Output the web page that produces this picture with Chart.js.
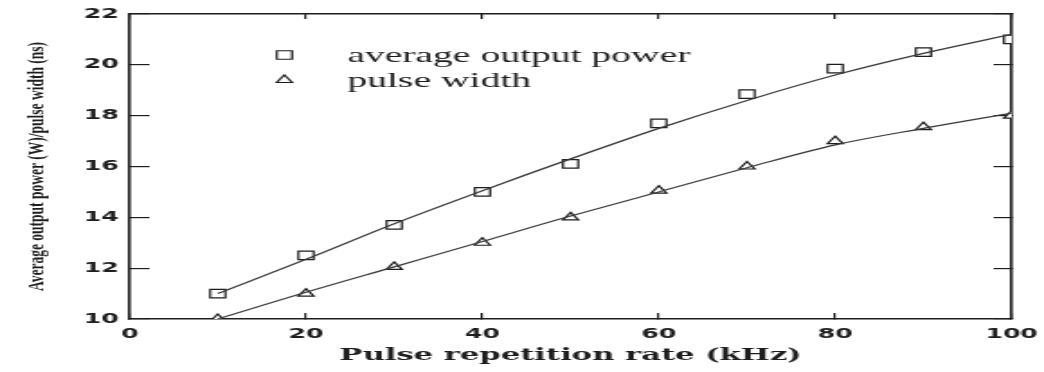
<!DOCTYPE html>
<html>
<head>
<meta charset="utf-8">
<script src="https://cdn.jsdelivr.net/npm/chart.js@4/dist/chart.umd.min.js"></script>
<style>
    html, body { margin: 0; padding: 0; background: #fff; overflow: hidden; }
    /* the scanned figure is stretched sideways, so the whole chart is too */
    #wrap { width: 580px; height: 372px; transform: scaleX(1.8); transform-origin: 0 0; }
</style>
</head>
<body>
<div id="wrap"><canvas id="pulse-chart"></canvas></div>
<script>
'use strict';

var rateKHz = [10, 20, 30, 40, 50, 60, 70, 80, 90, 100];
var avgPower = [11.0, 12.5, 13.7, 15.0, 16.1, 17.7, 18.85, 19.85, 20.5, 21.0];
var pulseWidth = [10.0, 11.0, 12.05, 13.0, 14.0, 15.05, 16.0, 17.0, 17.55, 18.0];
// fitted curves
var powerFit = [11.0, 12.35, 13.75, 15.05, 16.3, 17.5, 18.6, 19.6, 20.45, 21.2];
var widthFit = [10.0, 11.05, 12.05, 13.05, 14.05, 15.0, 15.95, 16.85, 17.5, 18.1];

var legendLabels = ['average output power', 'pulse width'];
var xTitle = 'Pulse repetition rate (kHz)';
var yTitle = 'Average output power (W)/pulse width (ns)';

var ink = '#1e1e1e';

function toPoints(xs, ys) {
    return xs.map(function (x, i) {
        return { x: x, y: ys[i] };
    });
}

var tickFont = { family: 'DejaVu Sans', size: 14, weight: 'bold' };

// legend sits inside the plot, upper left
var insideLegend = {
    id: 'insideLegend',
    afterDatasetsDraw: function (chart) {
        var ctx = chart.ctx;
        var area = chart.chartArea;
        var styles = ['rect', 'triangle'];
        var radii = [6, 5];
        ctx.save();
        ctx.font = '22px "Liberation Serif"';
        ctx.textBaseline = 'middle';
        legendLabels.forEach(function (label, i) {
            var y = area.top + 41 + i * 25;
            ctx.strokeStyle = ink;
            ctx.fillStyle = '#fff';
            ctx.lineWidth = 1.2;
            Chart.helpers.drawPoint(ctx, {
                pointStyle: styles[i],
                radius: radii[i],
                rotation: 0,
                borderWidth: 1.2
            }, area.left + 86, y);
            ctx.fillStyle = ink;
            ctx.fillText(label, area.left + 121, y + 1);
        });
        ctx.restore();
    }
};

// no extra room for edge tick labels, the frame fills the page
function noEdgePadding(scale) {
    scale.paddingLeft = 0;
    scale.paddingRight = 0;
    scale.paddingTop = 0;
    scale.paddingBottom = 0;
}

var pulseChart = new Chart(document.getElementById('pulse-chart'), {
    type: 'scatter',
    data: {
        datasets: [
            {
                type: 'line',
                data: toPoints(rateKHz, powerFit),
                borderColor: '#3a3a3a',
                borderWidth: 1.2,
                pointRadius: 0,
                cubicInterpolationMode: 'monotone',
                fill: false
            },
            {
                type: 'line',
                data: toPoints(rateKHz, widthFit),
                borderColor: '#3a3a3a',
                borderWidth: 1.2,
                pointRadius: 0,
                cubicInterpolationMode: 'monotone',
                fill: false
            },
            {
                data: toPoints(rateKHz, avgPower),
                pointStyle: 'rect',
                pointRadius: 6,
                borderWidth: 1.2,
                borderColor: ink,
                backgroundColor: '#fff'
            },
            {
                data: toPoints(rateKHz, pulseWidth),
                pointStyle: 'triangle',
                pointRadius: 5,
                borderWidth: 1.2,
                borderColor: ink,
                backgroundColor: '#fff'
            }
        ]
    },
    options: {
        responsive: true,
        maintainAspectRatio: false,
        animation: false,
        layout: { padding: 0 },
        plugins: {
            legend: { display: false },
            tooltip: { enabled: false }
        },
        scales: {
            x: {
                type: 'linear',
                position: 'bottom',
                min: 0,
                max: 100,
                ticks: { stepSize: 20, color: ink, font: tickFont, padding: 13, maxRotation: 0 },
                grid: { drawOnChartArea: false, tickLength: -6, color: ink, lineWidth: 1.2 },
                border: { color: ink, width: 1.6 },
                title: {
                    display: true,
                    text: xTitle,
                    color: ink,
                    font: { family: 'DejaVu Serif', size: 17, weight: 'bold' },
                    padding: { top: 0, bottom: 6 }
                },
                afterFit: function (scale) {
                    scale.height = 53;
                    noEdgePadding(scale);
                }
            },
            x2: {
                type: 'linear',
                position: 'top',
                min: 0,
                max: 100,
                ticks: { stepSize: 20, display: false },
                grid: { drawOnChartArea: false, tickLength: -5, color: ink, lineWidth: 1.2 },
                border: { color: ink, width: 1.6 },
                afterFit: function (scale) {
                    scale.height = 14;
                    noEdgePadding(scale);
                }
            },
            y: {
                type: 'linear',
                position: 'left',
                min: 10,
                max: 22,
                ticks: { stepSize: 2, color: ink, font: tickFont, padding: 17 },
                grid: { drawOnChartArea: false, tickLength: -11, color: ink, lineWidth: 1.2 },
                border: { color: ink, width: 1.6 },
                title: {
                    display: true,
                    text: yTitle,
                    color: ink,
                    font: { family: 'Liberation Serif', size: 13.5, weight: 'bold' },
                    padding: { top: 12, bottom: 0 }
                },
                afterFit: function (scale) {
                    scale.width = 72;
                    noEdgePadding(scale);
                }
            },
            y2: {
                type: 'linear',
                position: 'right',
                min: 10,
                max: 22,
                ticks: { stepSize: 2, display: false },
                grid: { drawOnChartArea: false, tickLength: -10, color: ink, lineWidth: 1.2 },
                border: { color: ink, width: 1.6 },
                afterFit: function (scale) {
                    scale.width = 18;
                    noEdgePadding(scale);
                }
            }
        }
    },
    plugins: [insideLegend]
});
</script>
</body>
</html>
